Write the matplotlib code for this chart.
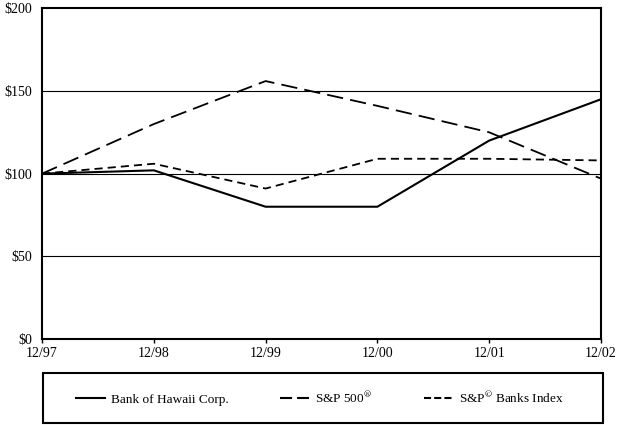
import matplotlib
matplotlib.use("Agg")
import matplotlib.pyplot as plt
from matplotlib.lines import Line2D
from matplotlib.patches import Rectangle

plt.rcParams['font.family'] = ['Liberation Serif', 'DejaVu Serif']
plt.rcParams['mathtext.fontset'] = 'stix'

# datas e valores (base $100)
periodos = ["12/97", "12/98", "12/99", "12/00", "12/01", "12/02"]
boh = [100, 102, 80, 80, 120, 145]
sp500 = [100, 130, 156, 141, 125, 97]
bancos = [100, 106, 91, 109, 109, 108]

fig = plt.figure(figsize=(6.19, 4.25), dpi=100)
ax = fig.add_axes([0.0679, 0.2024, 0.903, 0.778])

x = range(len(periodos))
ax.plot(x, boh, color='black', lw=1.5, zorder=3)
ax.plot(x, sp500, color='black', lw=1.3, dashes=(9, 4), zorder=3)
ax.plot(x, bancos, color='black', lw=1.3, dashes=(4.5, 2.8), zorder=3)

ax.set_xlim(0, len(periodos) - 1)
ax.set_ylim(0, 200)
ax.set_xticks(list(x))
ax.set_xticklabels(periodos)
ax.set_yticks([0, 50, 100, 150, 200])
ax.set_yticklabels(['$0', '$50', '$100', '$150', '$200'])
for v in [50, 100, 150]:
    ax.axhline(v, color='black', lw=0.8)
for s in ax.spines.values():
    s.set_linewidth(1.5)
ax.tick_params(axis='x', direction='out', length=3, width=1, labelsize=10, pad=3)
ax.tick_params(axis='y', length=0, labelsize=10, pad=7)

# caixa da legenda
fig.patches.append(Rectangle((0.0695, 0.0047), 0.905, 0.1176, transform=fig.transFigure,
                             fill=False, edgecolor='black', lw=1.5))

handles = [Line2D([], [], color='black', lw=1.5),
           Line2D([], [], color='black', lw=1.5, dashes=(5.8, 2.4)),
           Line2D([], [], color='black', lw=1.5, dashes=(3.4, 1.5))]
labels = ['Bank of Hawaii Corp.', r'S&P 500$^{\circledR}$', r'S&P$^{\copyright}$ Banks Index']
leg = fig.legend(handles, labels, loc='center', ncol=3,
                 bbox_to_anchor=(0.517, 0.0635), frameon=False, fontsize=9.5,
                 handlelength=2.15, handletextpad=0.5, columnspacing=3.9)

fig.savefig('out.png', dpi=100)
